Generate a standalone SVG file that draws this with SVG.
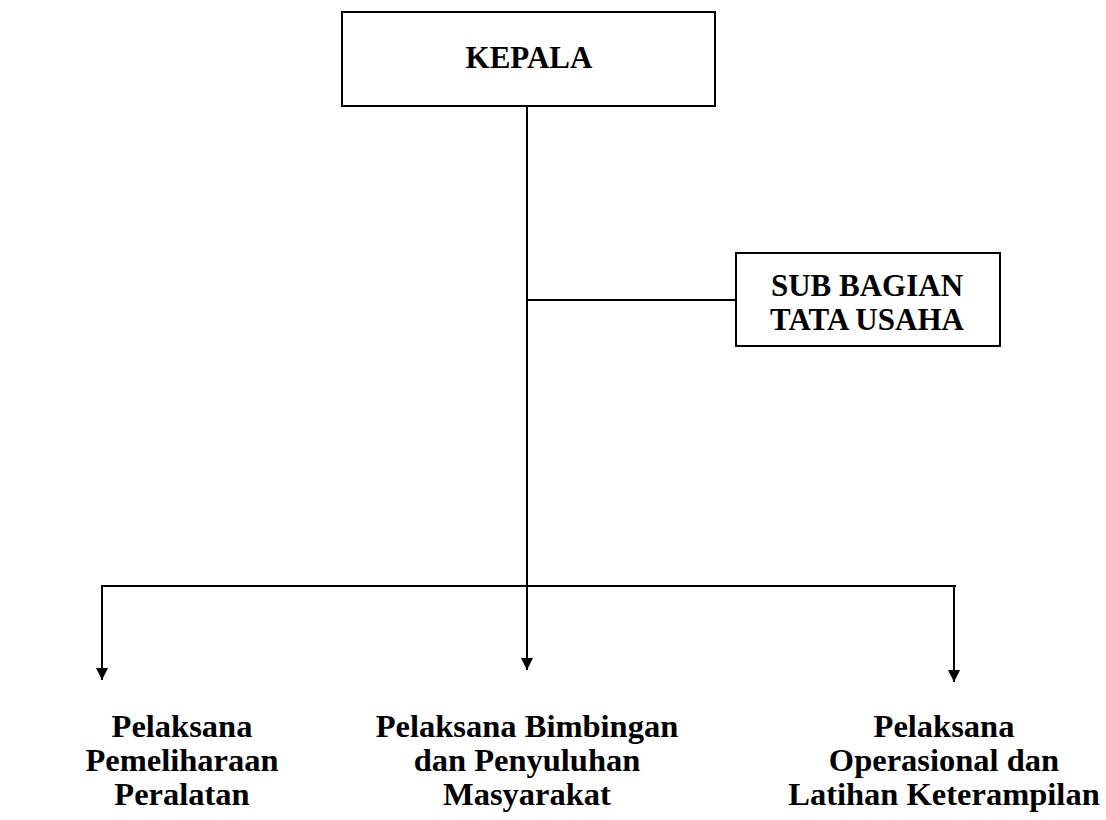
<svg xmlns="http://www.w3.org/2000/svg" width="1106" height="820" viewBox="0 0 1106 820">
<defs>
<style>
.box{fill:#fff;stroke:#000;stroke-width:2}
.ln{stroke:#000;stroke-width:2;fill:none}
.t{font-family:"Liberation Serif","Times New Roman",serif;font-weight:bold;font-size:31px;fill:#000;text-anchor:middle}
.b{font-size:32.5px}
</style>
<marker id="arr" viewBox="0 0 10 10" refX="10" refY="5" markerWidth="12" markerHeight="17" markerUnits="userSpaceOnUse" orient="auto">
<path d="M0,0 L10,5 L0,10 z" fill="#000"/>
</marker>
</defs>
<rect width="1106" height="820" fill="#fff"/>
<g id="connectors">
<line class="ln" x1="527" y1="106" x2="527" y2="586"/>
<line class="ln" x1="527" y1="300" x2="736" y2="300"/>
<line class="ln" x1="101" y1="586" x2="956" y2="586"/>
<line class="ln" x1="102" y1="586" x2="102" y2="680" marker-end="url(#arr)"/>
<line class="ln" x1="527" y1="586" x2="527" y2="670" marker-end="url(#arr)"/>
<line class="ln" x1="954" y1="586" x2="954" y2="682" marker-end="url(#arr)"/>
</g>
<g id="kepala">
<rect class="box" x="342" y="12" width="373" height="94"/>
<text class="t" x="529" y="68">KEPALA</text>
</g>
<g id="sub-bagian">
<rect class="box" x="736" y="253" width="264" height="93"/>
<text class="t" x="867" y="296">SUB BAGIAN</text>
<text class="t" x="867" y="330">TATA USAHA</text>
</g>
<g id="pemeliharaan">
<text class="t b" x="182" y="737">Pelaksana</text>
<text class="t b" x="182" y="771">Pemeliharaan</text>
<text class="t b" x="182" y="805">Peralatan</text>
</g>
<g id="bimbingan">
<text class="t b" x="527" y="737">Pelaksana Bimbingan</text>
<text class="t b" x="527" y="771">dan Penyuluhan</text>
<text class="t b" x="527" y="805">Masyarakat</text>
</g>
<g id="operasional">
<text class="t b" x="944" y="737">Pelaksana</text>
<text class="t b" x="944" y="771">Operasional dan</text>
<text class="t b" x="944" y="805">Latihan Keterampilan</text>
</g>
</svg>
